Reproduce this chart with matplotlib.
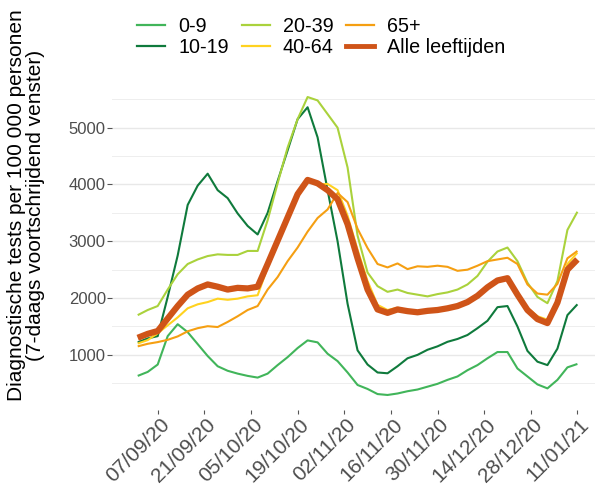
import pandas as pd
import numpy as np
import matplotlib
matplotlib.use("Agg")
import matplotlib.pyplot as plt
import matplotlib.dates as mdates
import matplotlib.transforms as mtransforms
from matplotlib.lines import Line2D

plt.rcParams["font.family"] = ["Liberation Sans", "DejaVu Sans"]

# ------------------------------------------------------------
# DATA (every 3 days from 01/09/2020)
# ------------------------------------------------------------
dates = pd.date_range("2020-09-01", periods=45, freq="3D")

age_0_9 = [630, 700, 830, 1330, 1540, 1400, 1190, 980, 800, 720,
           670, 630, 600, 670, 820, 960, 1120, 1255, 1220, 1020,
           890, 690, 470, 400, 310, 294, 320, 360, 390, 440,
           490, 560, 620, 730, 820, 940, 1050, 1050, 760, 620,
           480, 410, 560, 780, 840]

age_10_19 = [1220, 1290, 1330, 2020, 2750, 3640, 3980, 4190, 3900, 3760,
             3490, 3270, 3120, 3500, 4060, 4600, 5150, 5360, 4830, 3900,
             3000, 1900, 1080, 830, 690, 676, 800, 940, 1000, 1090,
             1150, 1230, 1280, 1350, 1470, 1600, 1840, 1860, 1500, 1070,
             880, 820, 1110, 1700, 1890]

age_20_39 = [1700, 1790, 1860, 2150, 2420, 2600, 2680, 2740, 2770, 2760,
             2760, 2830, 2830, 3370, 4020, 4650, 5150, 5540, 5480, 5240,
             5000, 4300, 3100, 2450, 2210, 2110, 2150, 2090, 2060, 2030,
             2070, 2100, 2150, 2240, 2390, 2640, 2820, 2890, 2650, 2270,
             2020, 1910, 2300, 3200, 3520]

age_40_64 = [1200, 1260, 1380, 1520, 1660, 1820, 1890, 1930, 1990, 1970,
             1990, 2030, 2050, 2540, 2950, 3370, 3780, 4060, 4000, 4010,
             3900, 3450, 2850, 2300, 1880, 1790, 1830, 1790, 1760, 1780,
             1800, 1830, 1870, 1940, 2050, 2200, 2320, 2340, 2080, 1830,
             1680, 1620, 1960, 2600, 2800]

age_65 = [1150, 1195, 1225, 1265, 1325, 1415, 1470, 1505, 1490, 1580,
          1680, 1790, 1860, 2150, 2370, 2650, 2890, 3170, 3410, 3560,
          3850, 3690, 3220, 2880, 2600, 2540, 2610, 2510, 2560, 2550,
          2570, 2550, 2480, 2500, 2570, 2650, 2680, 2710, 2600, 2240,
          2080, 2060, 2250, 2700, 2830]

alle = [1300, 1370, 1420, 1640, 1860, 2060, 2170, 2240, 2200, 2150,
        2180, 2170, 2200, 2600, 3010, 3420, 3830, 4080, 4020, 3900,
        3740, 3300, 2700, 2150, 1800, 1740, 1800, 1770, 1750, 1775,
        1790, 1820, 1860, 1930, 2040, 2190, 2310, 2350, 2060, 1790,
        1630, 1560, 1920, 2500, 2680]

series = [
    ("0-9", age_0_9, "#41b55a"),
    ("10-19", age_10_19, "#0f7a3c"),
    ("20-39", age_20_39, "#aad23c"),
    ("40-64", age_40_64, "#ffd21f"),
    ("65+", age_65, "#f59f12"),
]
ALLE_KLEUR = "#cf5418"

tick_dates = pd.date_range("2020-09-07", periods=10, freq="14D")
tick_labels = [d.strftime("%d/%m/%y") for d in tick_dates]

# ------------------------------------------------------------
# FIGUUR
# ------------------------------------------------------------
fig = plt.figure(figsize=(5.95, 4.87), dpi=100)
ax = fig.add_axes([112 / 595, 0.1583, 483 / 595, 0.675])

for naam, waarden, kleur in series:
    ax.plot(dates, waarden, color=kleur, lw=1.5, solid_capstyle="butt")
ax.plot(dates, alle, color=ALLE_KLEUR, lw=4.5, solid_capstyle="butt")

ref = pd.Timestamp("2020-09-07")
ax.set_xlim(ref - pd.Timedelta(days=13.72), ref + pd.Timedelta(days=131.28))
ax.set_ylim(31, 5819)

ax.set_yticks([1000, 2000, 3000, 4000, 5000])
ax.set_yticks([500, 1500, 2500, 3500, 4500, 5500], minor=True)
ax.grid(axis="y", which="major", color="#e8e8e8", lw=1.0)
ax.grid(axis="y", which="minor", color="#eeeeee", lw=0.7)
ax.set_axisbelow(True)

# x-as: streepjes via de as, labels als tekst met kleine verschuiving
ax.set_xticks(tick_dates)
ax.set_xticklabels([])
shift = mtransforms.ScaledTranslation(2 / 100, -5 / 100, fig.dpi_scale_trans)
for d, lab in zip(tick_dates, tick_labels):
    ax.text(mdates.date2num(d), 0, lab, transform=ax.get_xaxis_transform() + shift,
            rotation=45, ha="right", va="top", rotation_mode="anchor",
            fontsize=15, color="#4d4d4d")

ax.tick_params(axis="y", which="major", length=3.5, width=0.8, color="#555555",
               labelsize=12, labelcolor="#4d4d4d", pad=1)
ax.tick_params(axis="y", which="minor", length=0)
ax.tick_params(axis="x", length=3, width=0.8, color="#555555")

for s in ax.spines.values():
    s.set_visible(False)

fig.text(26 / 595, 1 - 205 / 487,
         "Diagnostische tests per 100 000 personen\n(7-daags voortschrijdend venster)",
         rotation=90, ha="center", va="center", multialignment="center",
         fontsize=15, color="black", linespacing=1.0)

handles = [Line2D([0], [0], color=k, lw=1.6) for _, _, k in series]
handles.append(Line2D([0], [0], color=ALLE_KLEUR, lw=3.5))
labels = [n for n, _, _ in series] + ["Alle leeftijden"]

fig.legend(handles, labels, ncol=3, loc="upper left",
           bbox_to_anchor=(137 / 595, 1 - 17 / 487),
           frameon=False, fontsize=14.2, handlelength=1.42,
           handletextpad=0.66, columnspacing=0.66, labelspacing=0.12,
           borderpad=0, borderaxespad=0)

fig.savefig("out.png", dpi=100)
